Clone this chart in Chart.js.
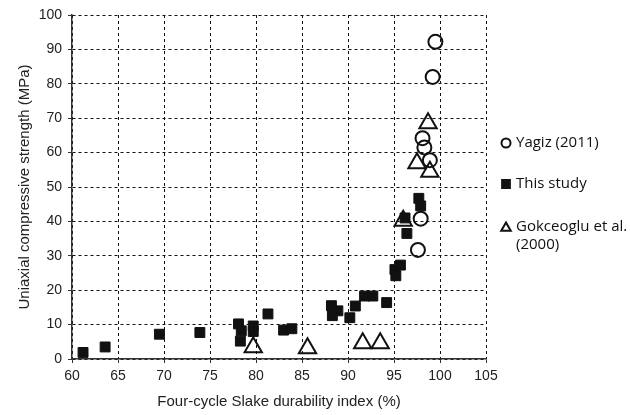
<!DOCTYPE html>
<html>
<head>
<meta charset="utf-8">
<script src="https://cdn.jsdelivr.net/npm/chart.js@4.4.1/dist/chart.umd.min.js"></script>
<style>
html, body { margin:0; padding:0; background:#fff; }
#wrap { position:relative; width:630px; height:415px; }
</style>
</head>
<body>
<div id="wrap"><canvas id="c" width="630" height="415"></canvas></div>
<script>
// Yagiz (2011)
const yagizX = [99.5, 99.2, 98.1, 98.3, 98.9, 97.9, 97.6]
const yagizY = [92.2, 82.0, 64.2, 61.5, 57.8, 40.8, 31.7]
// This study
const studyX = [61.2, 63.6, 69.5, 73.9, 78.1, 78.4, 78.3, 79.7, 79.7, 81.3, 83.0, 83.9, 88.2, 88.9, 88.3, 90.2, 90.8, 91.8, 92.7, 94.2, 95.1, 95.7, 95.2, 96.2, 96.4, 97.7, 97.9]
const studyY = [1.9, 3.5, 7.2, 7.7, 10.2, 8.2, 5.2, 9.6, 8.0, 13.1, 8.4, 8.8, 15.5, 14.0, 12.6, 12.0, 15.4, 18.3, 18.3, 16.4, 26.0, 27.3, 24.2, 41.0, 36.5, 46.7, 44.5]
// Gokceoglu et al. (2000)
const gokX = [98.7, 97.5, 98.9, 96.0, 79.7, 85.6, 91.6, 93.5]
const gokY = [68.5, 56.9, 54.4, 40.2, 3.4, 3.1, 4.6, 4.6]

const xTicks = [60, 65, 70, 75, 80, 85, 90, 95, 100, 105]
const yTicks = [0, 10, 20, 30, 40, 50, 60, 70, 80, 90, 100]

const legendItems = [
	{ text:['Yagiz (2011)'], style:'circle', fill:false },
	{ text:['This study'], style:'rect', fill:true },
	{ text:['Gokceoglu et al.', '(2000)'], style:'triangle', fill:false },
]

const pts = (xs, ys) => xs.map((x, i) => ({ x:x, y:ys[i] }))
const axisFont = 'Arial, "Liberation Sans", sans-serif'

const sideLegend = {
	id:'sideLegend',
	afterDraw: chart => {
		const ctx = chart.ctx
		const rows = [143, 184, 227]
		ctx.save()
		ctx.font = '15px "Open Sans"'
		ctx.textBaseline = 'middle'
		legendItems.forEach((it, i) => {
			const y = rows[i]
			ctx.strokeStyle = '#111'
			ctx.fillStyle = it.fill ? '#111' : 'rgba(0,0,0,0)'
			ctx.lineWidth = 2
			const r = it.style == 'circle' ? 4.5 : 5.5
			Chart.helpers.drawPoint(ctx, { pointStyle:it.style, radius:r, rotation:0, borderWidth:2 }, 506, y + (it.style == 'triangle' ? 1 : 0))
			ctx.fillStyle = '#111'
			it.text.forEach((t, j) => ctx.fillText(t, 516, y + j * 18))
		})
		ctx.restore()
	}
}

const draw = () => new Chart(document.getElementById('c'), {
	type:'scatter',
	data:{
		datasets:[
			{
				label:'Yagiz (2011)',
				data:pts(yagizX, yagizY),
				pointStyle:'circle',
				radius:7,
				borderWidth:2,
				borderColor:'#111',
				backgroundColor:'rgba(0,0,0,0)',
			},
			{
				label:'This study',
				data:pts(studyX, studyY),
				pointStyle:'rect',
				radius:7,
				borderWidth:1,
				borderColor:'#111',
				backgroundColor:'#111',
			},
			{
				label:'Gokceoglu et al. (2000)',
				data:pts(gokX, gokY),
				pointStyle:'triangle',
				radius:10,
				borderWidth:2,
				borderColor:'#111',
				backgroundColor:'rgba(0,0,0,0)',
			},
		]
	},
	options:{
		responsive:false,
		animation:false,
		layout:{ padding:{ top:15, right:144, left:0, bottom:0 } },
		plugins:{
			legend:{ display:false },
			tooltip:{ enabled:false },
		},
		scales:{
			x:{
				type:'linear',
				min:60, max:105,
				afterBuildTicks: s => { s.ticks = xTicks.map(v => ({ value:v })) },
				afterFit: s => { s.height = 56 },
				grid:{ color:'#111', lineWidth:1, tickLength:4, tickColor:'#333' },
				border:{ color:'#333', width:1.5, dash:[3, 3] },
				ticks:{ color:'#222', font:{ family:axisFont, size:14 }, padding:5 },
				title:{ display:true, text:'Four-cycle Slake durability index (%)', color:'#222', font:{ family:axisFont, size:15 }, padding:{ top:2 } },
			},
			y:{
				type:'linear',
				min:0, max:100,
				afterBuildTicks: s => { s.ticks = yTicks.map(v => ({ value:v })) },
				afterFit: s => { s.width = 72 },
				grid:{ color:'#111', lineWidth:1, tickLength:4, tickColor:'#333' },
				border:{ color:'#333', width:1.5, dash:[3, 3] },
				ticks:{ color:'#222', font:{ family:axisFont, size:14 }, padding:6 },
				title:{ display:true, text:'Uniaxial compressive strength (MPa)', color:'#222', font:{ family:axisFont, size:15 }, padding:{ top:16, bottom:4 } },
			},
		},
	},
	plugins:[ sideLegend ]
})

Promise.all([
	document.fonts.load('14px Arial'),
	document.fonts.load('15px "Open Sans"'),
]).then(draw, draw)
</script>
</body>
</html>
